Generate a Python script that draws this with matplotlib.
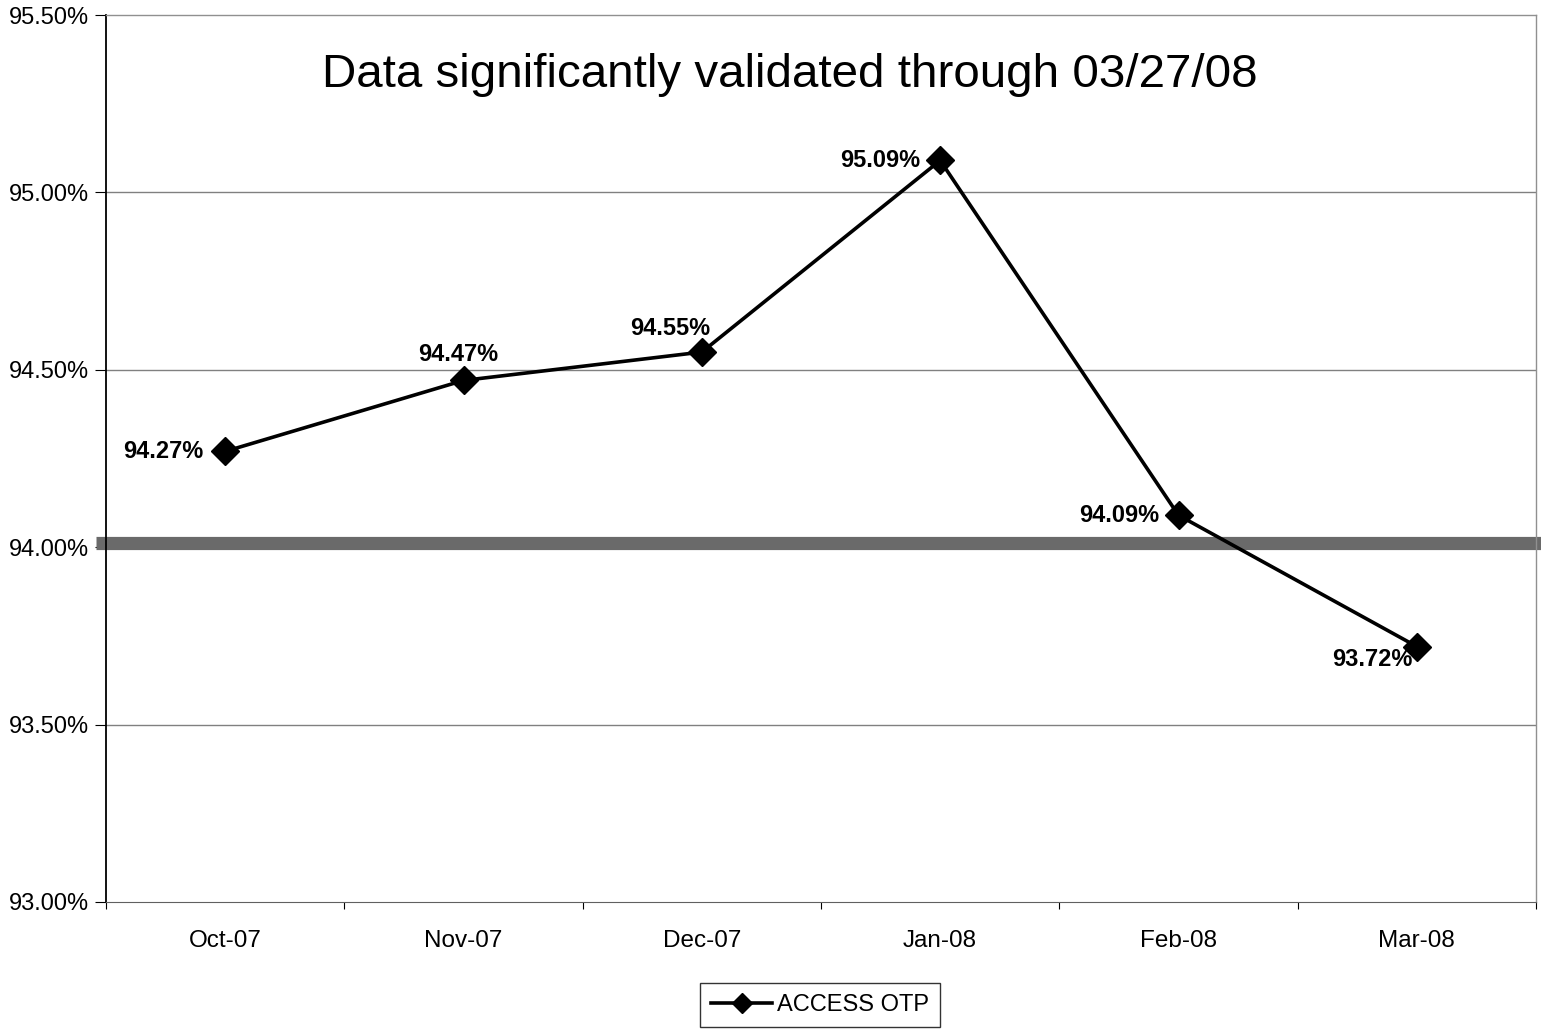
import matplotlib.pyplot as plt
from matplotlib.ticker import FixedLocator, FuncFormatter

plt.rcParams["font.family"] = ["Liberation Sans", "DejaVu Sans"]

months = ["Oct-07", "Nov-07", "Dec-07", "Jan-08", "Feb-08", "Mar-08"]
otp = [94.27, 94.47, 94.55, 95.09, 94.09, 93.72]
target = 94.0
y_ticks = [93.0, 93.5, 94.0, 94.5, 95.0, 95.5]
# label offsets in points (dx, dy) and alignment per point
label_pos = [(-16, 0, "right", "center"),
             (-4, 19, "center", "center"),
             (-23, 17, "center", "center"),
             (-14, 0, "right", "center"),
             (-14, 0, "right", "center"),
             (-3, -9, "right", "center")]

fig = plt.figure(figsize=(15.41, 10.29), dpi=100)
ax = fig.add_axes([106 / 1541, 1 - 902 / 1029, 1430 / 1541, 887 / 1029])

x = [i + 0.5 for i in range(len(months))]
ax.set_xlim(0, len(months))
ax.set_ylim(93.0, 95.5)

for yv in [93.5, 94.5, 95.0]:
    ax.axhline(yv, color="#808080", lw=1.0, zorder=1)

# target band
ax.plot([-0.007, 1.004], [target + 0.012] * 2, transform=ax.get_yaxis_transform(),
        color="#6a6a6a", lw=9.5, solid_capstyle="butt", clip_on=False, zorder=2)

line, = ax.plot(x, otp, color="black", lw=2.6, marker="D", markersize=14,
                zorder=3, label="ACCESS OTP")

for xi, v, (dx, dy, ha, va) in zip(x, otp, label_pos):
    ax.annotate(f"{v:.2f}%", (xi, v), xytext=(dx, dy), textcoords="offset points",
                ha=ha, va=va, fontsize=17, fontweight="bold")

ax.yaxis.set_major_locator(FixedLocator(y_ticks))
ax.yaxis.set_major_formatter(FuncFormatter(lambda v, p: f"{v:.2f}%"))
ax.tick_params(axis="y", labelsize=17, length=8, direction="out", pad=4)

ax.set_xticks(range(len(months) + 1))
ax.set_xticklabels([])
ax.set_xticks(x, minor=True)
ax.set_xticklabels(months, minor=True)
ax.tick_params(axis="x", which="major", length=5, direction="out")
ax.tick_params(axis="x", which="minor", length=0, labelsize=17.5, pad=20)

for s in ["top", "right"]:
    ax.spines[s].set_color("#909090")
    ax.spines[s].set_linewidth(1.0)
ax.spines["left"].set_linewidth(1.3)
ax.spines["bottom"].set_color("#606060")

fig.text(790 / 1541, 1 - 75 / 1029, "Data significantly validated through 03/27/08",
         fontsize=34.2, ha="center", va="center")

leg = fig.legend(handles=[line], loc="center", bbox_to_anchor=(820 / 1541, 1 - 1005 / 1029),
                 fontsize=17, frameon=True, fancybox=False, edgecolor="black",
                 handlelength=2.6, borderpad=0.45, handletextpad=0.2, markerscale=0.7)
leg.get_frame().set_linewidth(1.0)

fig.savefig("out.png", dpi=100)
